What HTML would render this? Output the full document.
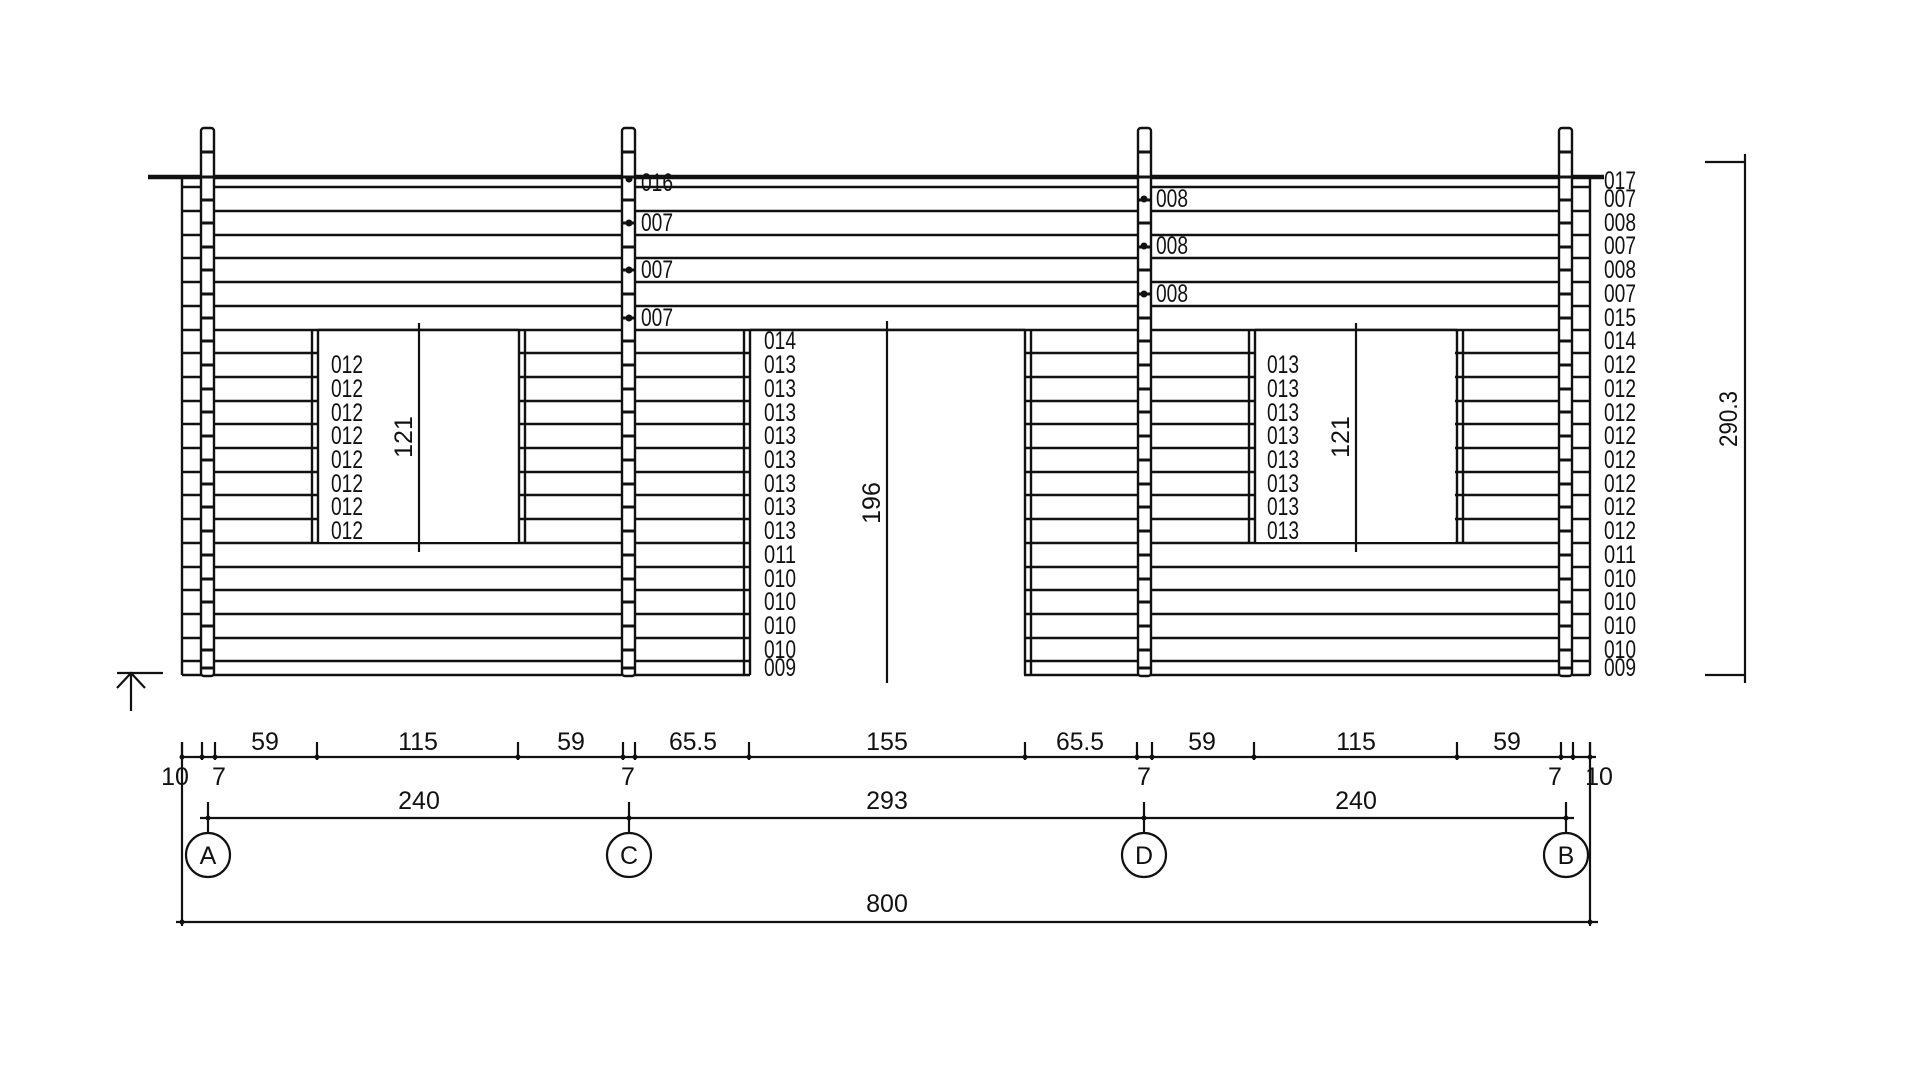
<!DOCTYPE html>
<html><head><meta charset="utf-8"><style>
html,body{margin:0;padding:0;background:#fff}
svg{display:block}
text{font-family:"Liberation Sans Narrow","Liberation Sans",sans-serif;font-size:25px;fill:#111}
</style></head><body>
<svg width="1920" height="1080" viewBox="0 0 1920 1080" xmlns="http://www.w3.org/2000/svg">
<g stroke="#111" stroke-width="2.6" fill="none">
<path d="M182 187H1590M182 211H1590M182 235H1590M182 258H1590M182 282H1590M182 306H1590M182 330H1590M182 353H1590M182 377H1590M182 401H1590M182 424H1590M182 448H1590M182 472H1590M182 495H1590M182 519H1590M182 543H1590M182 567H1590M182 590H1590M182 614H1590M182 638H1590M182 661H1590M182 675H1590"/>
</g>
<rect x="319" y="331" width="199" height="211" fill="#fff"/>
<rect x="1256" y="331" width="199" height="211" fill="#fff"/>
<rect x="750" y="331" width="274" height="346" fill="#fff"/>
<g stroke="#111" stroke-width="2.4" fill="none">
<path d="M312 330V543M318 330V543M519 330V543M525 330V543"/>
<path d="M1249 330V543M1255 330V543M1457 330V543M1463 330V543"/>
<path d="M744 330V675M750 330V675M1025 330V675M1031 330V675"/>
<path d="M318 330H519M1255 330H1457M750 330H1025"/>
<path d="M182 176V675M1590 176V675"/>
<path d="M148 177H1604" stroke-width="4.5"/>
</g>
<g stroke="#111" stroke-width="2.4" fill="#fff">
<rect x="201" y="128" width="13" height="548" rx="3"/>
<rect x="622" y="128" width="13" height="548" rx="3"/>
<rect x="1138" y="128" width="13" height="548" rx="3"/>
<rect x="1559" y="128" width="13" height="548" rx="3"/>
</g>
<g stroke="#111" stroke-width="3">
<path id="pl" d="M201 152h13M201 177h13M201 200h13M201 223h13M201 247h13M201 270h13M201 294h13M201 318h13M201 341h13M201 365h13M201 389h13M201 412h13M201 436h13M201 460h13M201 484h13M201 507h13M201 531h13M201 555h13M201 579h13M201 602h13M201 626h13M201 650h13M201 668h13"/>
<use href="#pl" x="421"/><use href="#pl" x="937"/><use href="#pl" x="1358"/>
</g>
<g fill="#111">
<circle cx="629" cy="179" r="3.5"/><circle cx="629" cy="223" r="3.5"/><circle cx="629" cy="270" r="3.5"/><circle cx="629" cy="318" r="3.5"/>
<circle cx="1144" cy="199" r="3.5"/><circle cx="1144" cy="246" r="3.5"/><circle cx="1144" cy="294" r="3.5"/>
</g>
<g dominant-baseline="central" textLength="32" lengthAdjust="spacingAndGlyphs">
<text textLength="32" lengthAdjust="spacingAndGlyphs" x="641" y="183">016</text><text textLength="32" lengthAdjust="spacingAndGlyphs" x="641" y="223">007</text><text textLength="32" lengthAdjust="spacingAndGlyphs" x="641" y="270">007</text><text textLength="32" lengthAdjust="spacingAndGlyphs" x="641" y="318">007</text>
<text textLength="32" lengthAdjust="spacingAndGlyphs" x="1156" y="199">008</text><text textLength="32" lengthAdjust="spacingAndGlyphs" x="1156" y="246">008</text><text textLength="32" lengthAdjust="spacingAndGlyphs" x="1156" y="294">008</text>
<text textLength="32" lengthAdjust="spacingAndGlyphs" x="1604" y="181">017</text><text textLength="32" lengthAdjust="spacingAndGlyphs" x="1604" y="199">007</text><text textLength="32" lengthAdjust="spacingAndGlyphs" x="1604" y="223">008</text><text textLength="32" lengthAdjust="spacingAndGlyphs" x="1604" y="246">007</text><text textLength="32" lengthAdjust="spacingAndGlyphs" x="1604" y="270">008</text><text textLength="32" lengthAdjust="spacingAndGlyphs" x="1604" y="294">007</text><text textLength="32" lengthAdjust="spacingAndGlyphs" x="1604" y="318">015</text><text textLength="32" lengthAdjust="spacingAndGlyphs" x="1604" y="341">014</text>
<text textLength="32" lengthAdjust="spacingAndGlyphs" x="1604" y="365">012</text><text textLength="32" lengthAdjust="spacingAndGlyphs" x="1604" y="389">012</text><text textLength="32" lengthAdjust="spacingAndGlyphs" x="1604" y="413">012</text><text textLength="32" lengthAdjust="spacingAndGlyphs" x="1604" y="436">012</text><text textLength="32" lengthAdjust="spacingAndGlyphs" x="1604" y="460">012</text><text textLength="32" lengthAdjust="spacingAndGlyphs" x="1604" y="484">012</text><text textLength="32" lengthAdjust="spacingAndGlyphs" x="1604" y="507">012</text><text textLength="32" lengthAdjust="spacingAndGlyphs" x="1604" y="531">012</text>
<text textLength="32" lengthAdjust="spacingAndGlyphs" x="1604" y="555">011</text><text textLength="32" lengthAdjust="spacingAndGlyphs" x="1604" y="579">010</text><text textLength="32" lengthAdjust="spacingAndGlyphs" x="1604" y="602">010</text><text textLength="32" lengthAdjust="spacingAndGlyphs" x="1604" y="626">010</text><text textLength="32" lengthAdjust="spacingAndGlyphs" x="1604" y="650">010</text><text textLength="32" lengthAdjust="spacingAndGlyphs" x="1604" y="668">009</text>
<text textLength="32" lengthAdjust="spacingAndGlyphs" x="764" y="341">014</text>
<text textLength="32" lengthAdjust="spacingAndGlyphs" x="764" y="365">013</text><text textLength="32" lengthAdjust="spacingAndGlyphs" x="764" y="389">013</text><text textLength="32" lengthAdjust="spacingAndGlyphs" x="764" y="413">013</text><text textLength="32" lengthAdjust="spacingAndGlyphs" x="764" y="436">013</text><text textLength="32" lengthAdjust="spacingAndGlyphs" x="764" y="460">013</text><text textLength="32" lengthAdjust="spacingAndGlyphs" x="764" y="484">013</text><text textLength="32" lengthAdjust="spacingAndGlyphs" x="764" y="507">013</text><text textLength="32" lengthAdjust="spacingAndGlyphs" x="764" y="531">013</text>
<text textLength="32" lengthAdjust="spacingAndGlyphs" x="764" y="555">011</text><text textLength="32" lengthAdjust="spacingAndGlyphs" x="764" y="579">010</text><text textLength="32" lengthAdjust="spacingAndGlyphs" x="764" y="602">010</text><text textLength="32" lengthAdjust="spacingAndGlyphs" x="764" y="626">010</text><text textLength="32" lengthAdjust="spacingAndGlyphs" x="764" y="650">010</text><text textLength="32" lengthAdjust="spacingAndGlyphs" x="764" y="668">009</text>
<text textLength="32" lengthAdjust="spacingAndGlyphs" x="331" y="365">012</text><text textLength="32" lengthAdjust="spacingAndGlyphs" x="331" y="389">012</text><text textLength="32" lengthAdjust="spacingAndGlyphs" x="331" y="413">012</text><text textLength="32" lengthAdjust="spacingAndGlyphs" x="331" y="436">012</text><text textLength="32" lengthAdjust="spacingAndGlyphs" x="331" y="460">012</text><text textLength="32" lengthAdjust="spacingAndGlyphs" x="331" y="484">012</text><text textLength="32" lengthAdjust="spacingAndGlyphs" x="331" y="507">012</text><text textLength="32" lengthAdjust="spacingAndGlyphs" x="331" y="531">012</text>
<text textLength="32" lengthAdjust="spacingAndGlyphs" x="1267" y="365">013</text><text textLength="32" lengthAdjust="spacingAndGlyphs" x="1267" y="389">013</text><text textLength="32" lengthAdjust="spacingAndGlyphs" x="1267" y="413">013</text><text textLength="32" lengthAdjust="spacingAndGlyphs" x="1267" y="436">013</text><text textLength="32" lengthAdjust="spacingAndGlyphs" x="1267" y="460">013</text><text textLength="32" lengthAdjust="spacingAndGlyphs" x="1267" y="484">013</text><text textLength="32" lengthAdjust="spacingAndGlyphs" x="1267" y="507">013</text><text textLength="32" lengthAdjust="spacingAndGlyphs" x="1267" y="531">013</text>
</g>
<g stroke="#111" stroke-width="2.2" fill="none">
<path d="M419 323V552M1356 323V552M887 321V683"/>
<path d="M1705 162H1745M1745 154V683M1705 675H1745"/>
<path d="M117 673H163M131 673V711M117 688L131 673L145 688"/>
</g>
<g text-anchor="middle" dominant-baseline="central">
<text transform="translate(404 437) rotate(-90)">121</text>
<text transform="translate(1341 437) rotate(-90)">121</text>
<text transform="translate(872 503) rotate(-90)">196</text>
<text transform="translate(1729 419) rotate(-90)" textLength="56" lengthAdjust="spacingAndGlyphs">290.3</text>
</g>
<g stroke="#111" stroke-width="2.2" fill="none">
<path d="M182 757H1596"/>
<path d="M182 742V760M202 742V760M215 742V760M317 742V760M518 742V760M623 742V760M635 742V760M749 742V760M1025 742V760M1137 742V760M1152 742V760M1254 742V760M1457 742V760M1561 742V760M1573 742V760M1590 742V760"/>
<path d="M200 818H1574"/>
<path d="M208 802V833M629 802V833M1144 802V833M1566 802V833"/>
<path d="M182 742V926M1590 742V926M176 922H1598"/>
<circle cx="208" cy="855" r="22"/><circle cx="629" cy="855" r="22"/><circle cx="1144" cy="855" r="22"/><circle cx="1566" cy="855" r="22"/>
</g>
<g fill="#111">
<circle cx="182" cy="757" r="2.5"/><circle cx="202" cy="757" r="2.5"/><circle cx="215" cy="757" r="2.5"/><circle cx="317" cy="757" r="2.5"/><circle cx="518" cy="757" r="2.5"/><circle cx="623" cy="757" r="2.5"/><circle cx="635" cy="757" r="2.5"/><circle cx="749" cy="757" r="2.5"/><circle cx="1025" cy="757" r="2.5"/><circle cx="1137" cy="757" r="2.5"/><circle cx="1152" cy="757" r="2.5"/><circle cx="1254" cy="757" r="2.5"/><circle cx="1457" cy="757" r="2.5"/><circle cx="1561" cy="757" r="2.5"/><circle cx="1573" cy="757" r="2.5"/><circle cx="1590" cy="757" r="2.5"/>
<circle cx="208" cy="818" r="2.5"/><circle cx="629" cy="818" r="2.5"/><circle cx="1144" cy="818" r="2.5"/><circle cx="1566" cy="818" r="2.5"/>
<circle cx="182" cy="922" r="2.5"/><circle cx="1590" cy="922" r="2.5"/>
</g>
<g text-anchor="middle" dominant-baseline="central">
<text x="265" y="742">59</text><text x="418" y="742">115</text><text x="571" y="742">59</text>
<text x="693" y="742" textLength="48" lengthAdjust="spacingAndGlyphs">65.5</text><text x="887" y="742">155</text><text x="1080" y="742" textLength="48" lengthAdjust="spacingAndGlyphs">65.5</text>
<text x="1202" y="742">59</text><text x="1356" y="742">115</text><text x="1507" y="742">59</text>
<text x="175" y="777">10</text><text x="219" y="777">7</text><text x="628" y="777">7</text><text x="1144" y="777">7</text><text x="1555" y="777">7</text><text x="1599" y="777">10</text>
<text x="419" y="801">240</text><text x="887" y="801">293</text><text x="1356" y="801">240</text>
<text x="208" y="856">A</text><text x="629" y="856">C</text><text x="1144" y="856">D</text><text x="1566" y="856">B</text>
<text x="887" y="904">800</text>
</g>
</svg>
</body></html>
